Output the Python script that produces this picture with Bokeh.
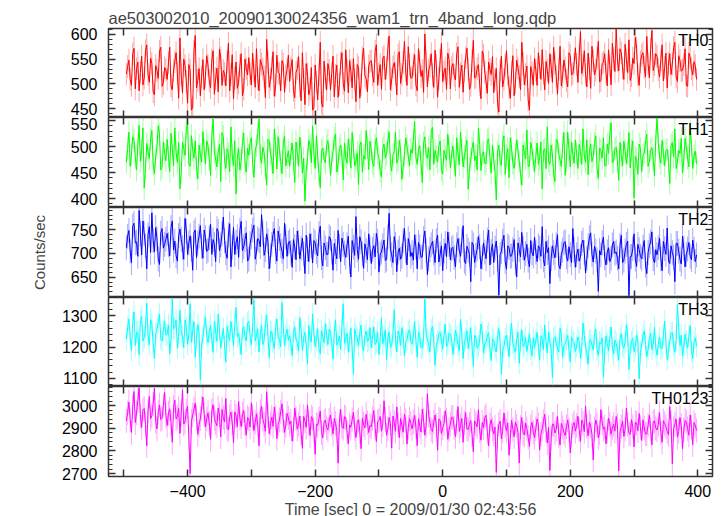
import numpy as np
from bokeh.plotting import figure
from bokeh.layouts import column
from bokeh.models import (Range1d, LinearAxis, FixedTicker, Label, ColumnDataSource,
                          CustomLabelingPolicy)
from bokeh.embed import file_html
from bokeh.resources import INLINE

TITLE = "ae503002010_20090130024356_wam1_trn_4band_long.qdp"
X_LABEL = "Time [sec] 0 = 2009/01/30 02:43:56"
Y_LABEL = "Counts/sec"

# light curves sampled every 2 s from t = -496 s; the "_A" lists hold the
# samples at -496, -492, ... and the "_B" lists those at -494, -490, ...
T_START = -496
T_STEP = 2

TH0_A = [
    520, 548, 497, 572, 531, 486, 556, 512, 579, 503, 541, 478, 527, 566, 495, 533,
    509, 574, 488, 545, 521, 593, 482, 537, 461, 528, 452, 598, 507, 476, 549, 515,
    538, 492, 567, 511, 484, 553, 527, 496, 582, 519, 470, 544, 502, 561, 489, 531,
    553, 498, 526, 571, 486, 540, 514, 590, 493, 532, 475, 558, 521, 547, 483, 529,
    505, 549, 472, 531, 496, 563, 458, 520, 489, 447, 538, 468, 584, 453, 512, 541,
    488, 556, 517, 473, 542, 501, 569, 482, 527, 551, 464, 533, 498, 572, 510, 536,
    547, 503, 579, 521, 489, 556, 532, 597, 508, 543, 478, 565, 519, 586, 497, 538,
    512, 559, 486, 544, 527, 601, 494, 536, 519, 568, 473, 548, 505, 532, 562, 490,
    541, 508, 575, 521, 483, 553, 529, 497, 588, 514, 539, 470, 558, 503, 544, 519,
    482, 531, 443, 556, 509, 567, 492, 524, 476, 548, 515, 584, 498, 536, 447, 522,
    551, 497, 534, 569, 488, 527, 561, 503, 542, 479, 576, 515, 532, 494, 557, 521,
    573, 503, 606, 538, 519, 562, 491, 547, 528, 586, 507, 544, 522, 569, 498, 551,
    612, 526, 563, 509, 548, 589, 517, 541, 572, 497, 558, 533, 596, 512, 608, 539,
    556, 514, 579, 533, 492, 561, 540, 584, 505, 547, 528, 571, 495, 553, 518, 537,
]
TH0_B = [
    535, 509, 561, 490, 544, 523, 498, 567, 519, 552, 484, 537, 511, 574, 502, 528,
    543, 496, 527, 563, 471, 518, 550, 505, 539, 447, 566, 492, 531, 514, 488, 557,
    506, 548, 479, 532, 570, 497, 521, 545, 486, 559, 512, 491, 537, 476, 550, 518,
    520, 562, 493, 511, 549, 530, 472, 544, 509, 565, 497, 523, 486, 540, 516, 558,
    532, 487, 523, 555, 466, 509, 541, 478, 533, 452, 504, 519, 461, 546, 488, 527,
    521, 474, 538, 499, 563, 485, 526, 547, 492, 508, 539, 471, 553, 516, 484, 545,
    518, 566, 497, 539, 552, 509, 571, 488, 534, 520, 558, 501, 543, 526, 575, 512,
    539, 498, 571, 515, 483, 546, 528, 561, 493, 537, 510, 582, 524, 489, 549, 533,
    517, 561, 493, 538, 526, 572, 489, 547, 512, 531, 498, 566, 524, 481, 529, 555,
    509, 462, 527, 494, 538, 519, 471, 557, 502, 532, 488, 541, 519, 468, 535, 497,
    528, 563, 509, 522, 545, 501, 536, 574, 515, 529, 496, 548, 507, 563, 518, 540,
    539, 558, 521, 567, 494, 531, 576, 518, 553, 504, 541, 561, 496, 537, 582, 525,
    548, 571, 532, 580, 523, 507, 552, 594, 518, 545, 563, 514, 541, 570, 527, 561,
    529, 548, 506, 562, 541, 519, 573, 514, 557, 526, 539, 497, 562, 531, 545, 509,
]
TH1_A = [
    470, 528, 486, 512, 455, 541, 493, 420, 506, 477, 531, 448, 499, 523, 461, 488,
    514, 452, 497, 536, 470, 419, 508, 483, 547, 462, 494, 511, 438, 485, 529, 467,
    502, 445, 553, 476, 491, 433, 519, 458, 487, 538, 464, 409, 496, 472, 526, 451,
    483, 517, 441, 502, 553, 468, 489, 426, 511, 475, 534, 457, 493, 448, 520, 479,
    462, 507, 431, 488, 518, 449, 395, 476, 503, 540, 458, 482, 421, 497, 469, 512,
    445, 491, 524, 467, 503, 436, 480, 515, 459, 498, 472, 427, 509, 483, 531, 456,
    494, 462, 517, 478, 441, 505, 486, 529, 453, 490, 468, 512, 437, 483, 501, 463,
    487, 548, 466, 502, 431, 519, 478, 456, 537, 493, 470, 511, 447, 482, 524, 459,
    501, 443, 486, 528, 461, 497, 418, 475, 509, 482, 536, 454, 490, 467, 515, 449,
    476, 398, 503, 464, 521, 482, 440, 497, 458, 513, 471, 426, 488, 532, 463, 495,
    452, 507, 478, 419, 496, 538, 466, 484, 433, 511, 474, 499, 445, 528, 461, 486,
    513, 458, 491, 534, 470, 446, 505, 482, 521, 439, 493, 517, 463, 487, 546, 472,
    499, 435, 483, 510, 467, 527, 492, 401, 476, 505, 452, 488, 524, 471, 498, 444,
    555, 480, 512, 463, 495, 429, 508, 534, 471, 487, 449, 516, 478, 530, 458, 491,
]
TH1_B = [
    497, 462, 519, 479, 503, 472, 536, 458, 491, 515, 466, 482, 540, 455, 508, 473,
    481, 526, 463, 489, 508, 451, 497, 534, 466, 521, 478, 459, 503, 470, 494, 511,
    476, 518, 489, 461, 504, 527, 474, 496, 452, 483, 511, 478, 455, 508, 469, 497,
    508, 469, 493, 525, 481, 499, 457, 514, 486, 448, 502, 519, 471, 507, 463, 492,
    487, 473, 509, 462, 496, 478, 455, 512, 469, 489, 521, 447, 492, 476, 503, 485,
    472, 516, 451, 496, 482, 507, 468, 491, 527, 463, 488, 502, 451, 476, 499, 510,
    468, 503, 487, 452, 496, 478, 511, 467, 484, 528, 475, 493, 461, 517, 482, 495,
    512, 479, 495, 468, 507, 483, 498, 529, 466, 481, 502, 456, 493, 474, 497, 486,
    472, 517, 465, 494, 481, 512, 458, 497, 473, 455, 504, 486, 468, 512, 479, 503,
    452, 489, 471, 508, 447, 496, 517, 468, 484, 492, 449, 503, 477, 461, 508, 474,
    481, 466, 509, 492, 458, 472, 503, 447, 514, 486, 462, 527, 473, 494, 509, 468,
    487, 504, 466, 482, 513, 492, 471, 506, 458, 497, 478, 463, 505, 524, 469, 496,
    472, 508, 463, 492, 488, 459, 511, 481, 447, 496, 483, 509, 462, 493, 476, 512,
    508, 468, 487, 492, 471, 502, 480, 458, 493, 516, 474, 499, 461, 504, 482, 467,
]
TH2_A = [
    712, 748, 681, 763, 724, 790, 697, 741, 668, 756, 785, 703, 731, 677, 752, 719,
    742, 695, 768, 726, 684, 751, 712, 773, 698, 737, 665, 749, 721, 758, 690, 733,
    707, 761, 729, 683, 746, 718, 776, 701, 739, 672, 754, 723, 692, 767, 714, 743,
    688, 735, 759, 703, 727, 781, 696, 741, 668, 719, 752, 684, 731, 705, 763, 694,
    726, 671, 714, 747, 689, 732, 658, 709, 741, 680, 723, 695, 757, 674, 712, 698,
    731, 665, 704, 748, 683, 719, 692, 736, 651, 713, 777, 688, 724, 669, 706, 741,
    679, 716, 742, 661, 703, 728, 688, 784, 697, 735, 662, 711, 694, 752, 676, 719,
    702, 739, 668, 714, 693, 747, 656, 708, 725, 681, 738, 699, 664, 721, 745, 687,
    713, 672, 731, 694, 758, 679, 707, 641, 718, 696, 735, 668, 722, 689, 749, 704,
    681, 726, 613, 704, 738, 667, 712, 695, 729, 651, 708, 744, 686, 719, 672, 701,
    734, 683, 711, 756, 674, 702, 637, 716, 691, 739, 668, 707, 725, 684, 698, 752,
    671, 709, 693, 728, 659, 716, 743, 682, 705, 621, 697, 734, 676, 712, 690, 725,
    703, 668, 738, 686, 719, 612, 694, 741, 673, 708, 689, 727, 658, 716, 745, 681,
    697, 732, 664, 710, 753, 679, 702, 641, 721, 688, 736, 672, 709, 694, 728, 683,
]
TH2_B = [
    736, 705, 757, 722, 694, 741, 768, 716, 739, 702, 727, 754, 688, 743, 711, 730,
    718, 754, 707, 695, 737, 729, 688, 747, 722, 709, 743, 691, 736, 715, 749, 704,
    733, 698, 719, 752, 706, 741, 727, 690, 762, 713, 698, 735, 748, 706, 729, 684,
    720, 749, 688, 731, 714, 743, 708, 726, 695, 740, 704, 747, 716, 689, 735, 722,
    702, 729, 687, 723, 711, 699, 738, 683, 716, 727, 704, 741, 691, 722, 698, 735,
    703, 721, 689, 715, 732, 701, 718, 683, 727, 696, 708, 735, 699, 720, 687, 711,
    708, 693, 726, 699, 716, 685, 734, 709, 681, 719, 703, 688, 727, 705, 731, 694,
    686, 714, 723, 692, 731, 706, 689, 718, 701, 727, 682, 716, 705, 693, 719, 710,
    692, 718, 706, 727, 684, 715, 698, 723, 681, 709, 714, 692, 703, 728, 676, 720,
    711, 689, 698, 725, 683, 716, 694, 708, 680, 722, 693, 711, 700, 686, 727, 695,
    703, 716, 694, 687, 725, 712, 689, 702, 718, 676, 699, 722, 693, 714, 681, 708,
    697, 684, 721, 702, 690, 733, 698, 715, 687, 706, 722, 691, 703, 683, 718, 700,
    690, 717, 681, 705, 726, 693, 710, 688, 719, 694, 713, 676, 702, 724, 689, 708,
    712, 689, 725, 698, 684, 716, 692, 721, 705, 678, 711, 698, 723, 687, 709, 697,
]
TH3_A = [
    1225, 1290, 1188, 1312, 1246, 1175, 1298, 1231, 1340, 1207, 1274, 1163, 1258, 1305, 1219, 1283,
    1241, 1178, 1355, 1262, 1196, 1318, 1235, 1287, 1209, 1338, 1251, 1167, 1272, 1094, 1229, 1296,
    1214, 1268, 1183, 1247, 1305, 1198, 1259, 1152, 1236, 1281, 1205, 1327, 1243, 1176, 1264, 1219,
    1282, 1207, 1351, 1238, 1184, 1269, 1221, 1302, 1166, 1248, 1195, 1289, 1227, 1342, 1203, 1257,
    1236, 1172, 1265, 1213, 1294, 1189, 1247, 1146, 1228, 1306, 1201, 1258, 1179, 1232, 1275, 1208,
    1243, 1161, 1287, 1217, 1192, 1338, 1226, 1183, 1261, 1114, 1239, 1203, 1270, 1188, 1251, 1222,
    1197, 1264, 1215, 1176, 1293, 1231, 1158, 1248, 1206, 1319, 1184, 1237, 1262, 1171, 1223, 1255,
    1209, 1281, 1167, 1236, 1198, 1352, 1224, 1185, 1266, 1142, 1218, 1247, 1193, 1273, 1211, 1238,
    1176, 1254, 1208, 1289, 1163, 1227, 1195, 1262, 1139, 1231, 1203, 1274, 1181, 1218, 1246, 1157,
    1221, 1184, 1259, 1113, 1202, 1238, 1169, 1276, 1194, 1223, 1148, 1255, 1207, 1186, 1242, 1172,
    1199, 1247, 1158, 1226, 1270, 1181, 1214, 1102, 1233, 1196, 1261, 1167, 1209, 1238, 1152, 1219,
    1186, 1232, 1164, 1277, 1201, 1145, 1224, 1191, 1258, 1173, 1209, 1103, 1236, 1188, 1264, 1177,
    1212, 1158, 1243, 1196, 1271, 1128, 1217, 1185, 1239, 1099, 1206, 1252, 1169, 1227, 1192, 1264,
    1174, 1231, 1195, 1283, 1160, 1218, 1247, 1183, 1336, 1205, 1172, 1241, 1197, 1268, 1163, 1229,
]
TH3_B = [
    1262, 1231, 1279, 1205, 1247, 1284, 1219, 1261, 1236, 1288, 1212, 1242, 1279, 1226, 1253, 1238,
    1270, 1223, 1258, 1287, 1234, 1249, 1198, 1264, 1241, 1215, 1281, 1227, 1245, 1206, 1268, 1236,
    1249, 1225, 1281, 1218, 1253, 1228, 1204, 1266, 1221, 1249, 1272, 1233, 1211, 1258, 1234, 1277,
    1231, 1265, 1219, 1258, 1242, 1208, 1274, 1236, 1250, 1215, 1262, 1228, 1201, 1266, 1239, 1222,
    1211, 1248, 1226, 1187, 1253, 1231, 1205, 1269, 1217, 1244, 1226, 1193, 1252, 1214, 1238, 1257,
    1218, 1247, 1206, 1234, 1263, 1212, 1244, 1221, 1195, 1258, 1229, 1247, 1203, 1236, 1219, 1262,
    1232, 1208, 1247, 1226, 1210, 1255, 1229, 1198, 1241, 1223, 1251, 1206, 1233, 1215, 1249, 1218,
    1236, 1221, 1249, 1197, 1228, 1241, 1212, 1254, 1225, 1207, 1243, 1219, 1236, 1201, 1245, 1227,
    1214, 1233, 1188, 1241, 1217, 1252, 1226, 1203, 1238, 1196, 1222, 1247, 1209, 1234, 1193, 1226,
    1197, 1232, 1214, 1188, 1226, 1205, 1239, 1213, 1183, 1247, 1218, 1201, 1231, 1212, 1194, 1229,
    1221, 1203, 1236, 1192, 1217, 1248, 1196, 1227, 1210, 1184, 1239, 1205, 1224, 1189, 1232, 1213,
    1203, 1218, 1195, 1236, 1181, 1221, 1206, 1239, 1192, 1215, 1229, 1186, 1212, 1230, 1197, 1222,
    1189, 1227, 1205, 1216, 1238, 1193, 1228, 1201, 1215, 1183, 1236, 1207, 1192, 1244, 1210, 1198,
    1208, 1196, 1237, 1212, 1189, 1244, 1206, 1221, 1262, 1238, 1199, 1217, 1235, 1186, 1214, 1203,
]
TH0123_A = [
    2932, 3015, 2881, 3062, 2968, 3079, 2904, 2987, 2823, 3041, 2956, 3076, 2897, 3003, 2945, 3058,
    2912, 2986, 2838, 3024, 2951, 2877, 3069, 2929, 2996, 2700, 2958, 3011, 2873, 2942, 3037, 2905,
    2968, 2851, 3004, 2925, 2989, 2862, 2947, 3031, 2893, 2971, 2836, 2954, 3018, 2907, 2978, 2869,
    2941, 3012, 2889, 2963, 2822, 2997, 2918, 3061, 2876, 2949, 2993, 2854, 2936, 3008, 2882, 2965,
    2917, 2843, 2989, 2896, 2954, 2811, 2931, 3003, 2868, 2942, 2785, 2913, 2976, 2857, 2935, 2892,
    2958, 2874, 2921, 2746, 2983, 2899, 2946, 2832, 2904, 2971, 2859, 2937, 2810, 2918, 2962, 2881,
    2906, 2978, 2841, 2934, 2887, 3021, 2869, 2947, 2812, 2925, 2994, 2858, 2913, 2961, 2830, 2942,
    2897, 2956, 2823, 2911, 2984, 2869, 3052, 2926, 2886, 2958, 2803, 2935, 2902, 2977, 2851, 2919,
    2948, 2863, 2995, 2912, 2838, 2969, 2895, 2934, 2796, 2921, 2982, 2847, 2903, 2957, 2822, 2938,
    2874, 2705, 2916, 2853, 2967, 2889, 2781, 2935, 2862, 2910, 2746, 2947, 2871, 2898, 2819, 2926,
    2858, 2941, 2804, 2897, 2962, 2835, 2714, 2918, 2879, 2953, 2826, 2904, 2868, 2937, 2791, 2911,
    2887, 2953, 2842, 2921, 2997, 2866, 2910, 2760, 2936, 2858, 2982, 2895, 2831, 2944, 2873, 2917,
    2952, 2712, 2906, 2864, 2989, 2878, 2938, 2817, 2923, 2965, 2846, 2901, 2874, 2958, 2826, 2932,
    2892, 2968, 2838, 2921, 2885, 2995, 2743, 2917, 2861, 2947, 2809, 2934, 2898, 2959, 2827, 2913,
]
TH0123_B = [
    2968, 2937, 2995, 2925, 3021, 2953, 2981, 2916, 2974, 2942, 3006, 2929, 2971, 2938, 2999, 2956,
    2967, 2925, 2992, 2941, 2987, 2962, 2918, 2976, 2857, 2931, 2984, 2947, 2915, 2989, 2961, 2940,
    2921, 2976, 2943, 2911, 2958, 2983, 2928, 2899, 2951, 2924, 2972, 2907, 2945, 2962, 2921, 2947,
    2905, 2951, 2926, 2917, 2973, 2939, 2887, 2956, 2921, 2908, 2947, 2919, 2972, 2933, 2914, 2946,
    2931, 2896, 2943, 2918, 2879, 2952, 2904, 2925, 2951, 2893, 2917, 2941, 2880, 2927, 2902, 2936,
    2917, 2943, 2889, 2928, 2906, 2951, 2882, 2915, 2937, 2898, 2926, 2885, 2943, 2901, 2924, 2912,
    2944, 2903, 2929, 2952, 2916, 2938, 2897, 2921, 2954, 2887, 2916, 2943, 2882, 2935, 2904, 2921,
    2928, 2906, 2942, 2883, 2935, 2912, 2957, 2894, 2927, 2913, 2941, 2876, 2920, 2937, 2895, 2948,
    2901, 2927, 2886, 2943, 2924, 2896, 2917, 2871, 2932, 2906, 2889, 2925, 2946, 2882, 2914, 2897,
    2905, 2864, 2931, 2887, 2912, 2923, 2859, 2896, 2927, 2881, 2904, 2878, 2922, 2859, 2907, 2883,
    2897, 2916, 2874, 2929, 2892, 2903, 2857, 2917, 2895, 2868, 2921, 2882, 2906, 2893, 2869, 2925,
    2912, 2893, 2936, 2885, 2908, 2927, 2872, 2898, 2914, 2879, 2923, 2906, 2888, 2919, 2901, 2887,
    2911, 2885, 2932, 2896, 2918, 2873, 2907, 2926, 2889, 2904, 2937, 2875, 2913, 2895, 2928, 2901,
    2917, 2881, 2933, 2906, 2872, 2924, 2898, 2941, 2886, 2912, 2893, 2927, 2869, 2904, 2925, 2890,
]

BAND_NAMES = ["TH0", "TH1", "TH2", "TH3", "TH0123"]
BAND_A = [TH0_A, TH1_A, TH2_A, TH3_A, TH0123_A]
BAND_B = [TH0_B, TH1_B, TH2_B, TH3_B, TH0123_B]
BAND_COLORS = ["#ff0000", "#00ff00", "#0000ff", "#00ffff", "#ff00ff"]
BAND_ERR = [23, 22, 26, 35, 54]
Y_RANGES = [(432, 612), (383, 556), (608, 796), (1074, 1358), (2687, 3084)]
Y_TICKS = [[450, 500, 550, 600], [400, 450, 500, 550], [650, 700, 750],
           [1100, 1200, 1300], [2700, 2800, 2900, 3000]]
Y_MINOR_STEP = [10, 10, 10, 20, 20]
X_RANGE = (-524, 423)
X_TICKS = [-400, -200, 0, 200, 400]
X_MINOR = [-500, -300, -100, 100, 300]
FRAME_H = [89, 90, 90, 89, 90]

FONT = "Liberation Sans"
AX_COL = "#333333"

xr = Range1d(*X_RANGE)

HIDE = "for (const i of indices) { indices.unset(i) }\nreturn indices"


def style_axis(ax, labels):
    ax.axis_line_color = None
    ax.major_tick_in = 7
    ax.major_tick_out = 0
    ax.minor_tick_in = 4
    ax.minor_tick_out = 0
    ax.major_tick_line_color = AX_COL
    ax.minor_tick_line_color = AX_COL
    ax.major_tick_line_width = 1.5
    ax.minor_tick_line_width = 1
    ax.major_label_text_font = FONT
    ax.major_label_text_color = "#000000"
    if labels:
        ax.major_label_text_font_size = "16px"
        ax.major_label_standoff = 11
    else:
        ax.major_label_text_font_size = "0px"
        ax.major_label_standoff = 0
        ax.major_label_policy = CustomLabelingPolicy(code=HIDE)


figs = []
n = len(BAND_NAMES)
for i in range(n):
    ylo, yhi = Y_RANGES[i]
    vals = np.column_stack([BAND_A[i], BAND_B[i]]).ravel().astype(float)
    t = T_START + T_STEP * np.arange(len(vals))
    p = figure(frame_width=604, frame_height=FRAME_H[i], x_range=xr,
               y_range=Range1d(ylo, yhi), output_backend="svg",
               toolbar_location=None, x_axis_location=None, y_axis_location=None,
               min_border=0, min_border_left=108, min_border_right=8)
    p.outline_line_color = AX_COL
    p.outline_line_width = 1.5
    p.background_fill_color = "white"
    p.border_fill_color = "white"
    for g in p.grid:
        g.visible = False

    minors = list(range(int(np.ceil(ylo / Y_MINOR_STEP[i]) * Y_MINOR_STEP[i]),
                        int(yhi) + 1, Y_MINOR_STEP[i]))
    left = LinearAxis(ticker=FixedTicker(ticks=Y_TICKS[i], minor_ticks=minors))
    style_axis(left, True)
    if i == 2:
        left.axis_label = Y_LABEL
        left.axis_label_text_font = FONT
        left.axis_label_text_font_size = "15px"
        left.axis_label_text_font_style = "normal"
        left.axis_label_standoff = 20
    p.add_layout(left, "left")
    right = LinearAxis(ticker=FixedTicker(ticks=Y_TICKS[i], minor_ticks=minors))
    style_axis(right, False)
    p.add_layout(right, "right")

    top = LinearAxis(ticker=FixedTicker(ticks=X_TICKS, minor_ticks=X_MINOR))
    style_axis(top, False)
    top.minor_tick_in = 7
    top.minor_tick_line_width = 1.5
    p.add_layout(top, "above")
    bottom = LinearAxis(ticker=FixedTicker(ticks=X_TICKS, minor_ticks=X_MINOR))
    style_axis(bottom, i == n - 1)
    bottom.minor_tick_in = 7
    bottom.minor_tick_line_width = 1.5
    if i == n - 1:
        bottom.major_label_overrides = {-400: "\u2212400", -200: "\u2212200"}
        bottom.axis_label = X_LABEL
        bottom.axis_label_text_font = FONT
        bottom.axis_label_text_font_size = "16px"
        bottom.axis_label_text_font_style = "normal"
        bottom.axis_label_standoff = 1
        bottom.major_label_standoff = 8
    p.add_layout(bottom, "below")

    if i == 0:
        p.min_border_top = 28
        p.title.text = TITLE
        p.title.align = "left"
        p.title.offset = 0
        p.title.text_font = FONT
        p.title.text_font_size = "16.5px"
        p.title.text_font_style = "normal"
        p.title.standoff = 4

    src = ColumnDataSource(dict(t=t, v=vals, lo=vals - BAND_ERR[i], hi=vals + BAND_ERR[i]))
    p.segment(x0="t", y0="lo", x1="t", y1="hi", source=src,
              line_color=BAND_COLORS[i], line_alpha=0.35, line_width=1)
    p.line("t", "v", source=src, line_color=BAND_COLORS[i], line_width=1)

    p.add_layout(Label(x=X_RANGE[1], y=yhi, x_offset=-4, y_offset=-3,
                       text=BAND_NAMES[i], text_align="right", text_baseline="top",
                       text_font=FONT, text_font_size="16px", text_color="#000000"))
    figs.append(p)

layout = column(*figs, spacing=0)
open("out.html", "w").write(file_html(layout, INLINE))
